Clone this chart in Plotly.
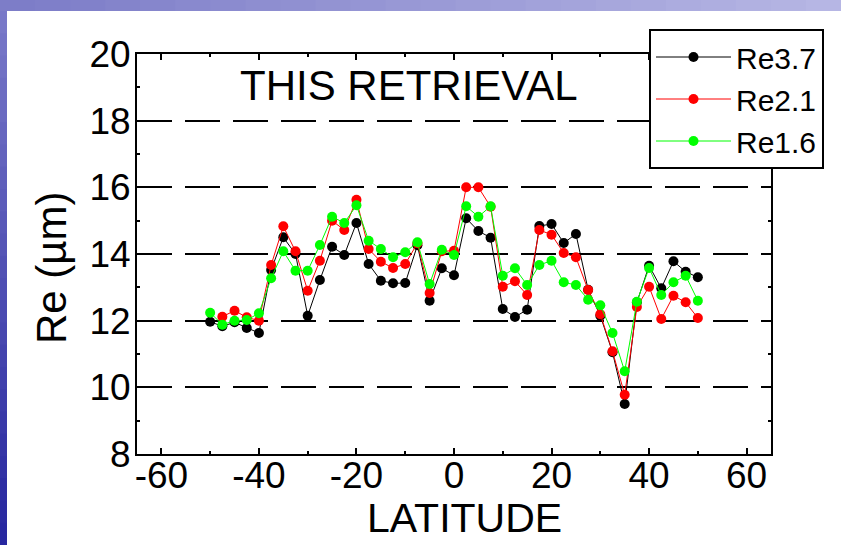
import plotly.graph_objects as go

# Latitude of each retrieval bin (degrees)
lat = [-50, -47.5, -45, -42.5, -40, -37.5, -35, -32.5, -30, -27.5,
       -25, -22.5, -20, -17.5, -15, -12.5, -10, -7.5, -5, -2.5,
       0, 2.5, 5, 7.5, 10, 12.5, 15, 17.5, 20, 22.5,
       25, 27.5, 30, 32.5, 35, 37.5, 40, 42.5, 45, 47.5, 50]

# Effective radius (µm) from the 3.7, 2.1 and 1.6 µm channels
re37 = [11.97, 11.83, 11.95, 11.78, 11.63, 13.52, 14.50, 14.00, 12.15, 13.22,
        14.22, 13.97, 14.93, 13.70, 13.20, 13.12, 13.13, 14.26, 12.60, 13.57,
        13.36, 15.07, 14.69, 14.49, 12.35, 12.11, 12.33, 14.84, 14.90, 14.33,
        14.60, 12.93, 12.15, 11.05, 9.50, 12.55, 13.65, 12.97, 13.78, 13.47, 13.30]
re21 = [None, 12.12, 12.30, 12.10, 12.00, 13.67, 14.83, 14.08, 12.90, 13.80,
        15.00, 14.72, 15.63, 14.15, 13.77, 13.58, 13.70, 14.32, 12.83, 14.08,
        14.10, 16.00, 16.00, 15.42, 13.02, 13.18, 12.77, 14.72, 14.58, 14.03,
        13.90, 12.92, 12.19, 11.08, 9.78, 12.41, 13.02, 12.05, 12.75, 12.55, 12.08]
re16 = [12.24, 11.88, 12.00, 12.02, 12.22, 13.27, 14.08, 13.50, 13.50, 14.27,
        15.12, 14.93, 15.46, 14.40, 14.15, 13.90, 14.05, 14.35, 13.10, 14.13,
        13.97, 15.43, 15.12, 15.43, 13.35, 13.57, 13.07, 13.67, 13.80, 13.15,
        13.07, 12.63, 12.46, 11.63, 10.48, 12.57, 13.58, 12.77, 13.15, 13.35, 12.60]

series = [("Re3.7", re37, "#000000"),
          ("Re2.1", re21, "#ff0000"),
          ("Re1.6", re16, "#00ff00")]

x_ticks = [-60, -40, -20, 0, 20, 40, 60]
x_labels = ["-60", "-40", "-20", "0", "20", "40", "60"]
y_ticks = [8, 10, 12, 14, 16, 18, 20]

FONT = "Liberation Sans, Arial, sans-serif"
W, H = 841, 545
ML, MR, MT, MB = 137, 70, 54, 91
PW, PH = W - ML - MR, H - MT - MB

fig = go.Figure()
for name, vals, col in series:
    fig.add_trace(go.Scatter(
        x=lat, y=vals, name=name, mode="lines+markers",
        line=dict(color=col, width=1),
        marker=dict(color=col, size=10, symbol="circle"),
    ))


def px_x(p):
    return (p - ML) / PW


def px_y(p):
    return (H - MB - p) / PH


# slide backdrop: blue page, white card, shaded band along the top edge
shapes = [dict(type="rect", xref="paper", yref="paper", layer="below",
               x0=px_x(7), x1=px_x(W + 2), y0=px_y(H + 2), y1=px_y(11),
               fillcolor="white", line=dict(width=0))]
n = 24
top_c0, top_c1 = (125, 125, 200), (182, 182, 228)
for i in range(n):
    t = i / (n - 1)
    c = tuple(int(a + (b - a) * t) for a, b in zip(top_c0, top_c1))
    shapes.append(dict(type="rect", xref="paper", yref="paper", layer="below",
                       x0=px_x(W * i / n), x1=px_x(W * (i + 1) / n + 1),
                       y0=px_y(11), y1=px_y(-1),
                       fillcolor="rgb(%d,%d,%d)" % c, line=dict(width=0)))
left_c0, left_c1 = (120, 120, 200), (40, 40, 160)
for i in range(n):
    t = i / (n - 1)
    c = tuple(int(a + (b - a) * t) for a, b in zip(left_c0, left_c1))
    shapes.append(dict(type="rect", xref="paper", yref="paper", layer="below",
                       x0=px_x(-1), x1=px_x(7),
                       y0=px_y(11 + (H - 11) * (i + 1) / n + 1),
                       y1=px_y(11 + (H - 11) * i / n),
                       fillcolor="rgb(%d,%d,%d)" % c, line=dict(width=0)))

axis_common = dict(
    showline=True, linecolor="black", linewidth=2, mirror="ticks",
    ticks="inside", ticklen=6, tickwidth=2, tickcolor="black",
    tickfont=dict(family=FONT, size=37, color="black"),
    zeroline=False,
)

fig.update_layout(
    width=W, height=H,
    margin=dict(l=ML, r=MR, t=MT, b=MB, pad=0),
    paper_bgcolor="rgb(45,45,165)", plot_bgcolor="white",
    shapes=shapes,
    xaxis=dict(range=[-65, 65], tickvals=x_ticks, ticktext=x_labels,
               showgrid=False, ticklabelstandoff=-12,
               minor=dict(dtick=10, ticks="inside", ticklen=3, tickwidth=1.5,
                          tickcolor="black"),
               **axis_common),
    yaxis=dict(range=[8, 20], tickvals=y_ticks, showgrid=True,
               gridcolor="black", gridwidth=2, griddash="35px,13px",
               minor=dict(dtick=1, ticks="inside", ticklen=3, tickwidth=1.5,
                          tickcolor="black"),
               ticklabelstandoff=-3,
               **axis_common),
    legend=dict(x=px_x(649), y=px_y(29), xanchor="left", yanchor="top",
                bgcolor="white", bordercolor="black", borderwidth=2,
                font=dict(family=FONT, size=30, color="black"),
                itemwidth=75, tracegroupgap=0),
    showlegend=True,
    annotations=[
        dict(text="THIS RETRIEVAL", xref="paper", yref="paper",
             x=px_x(409), y=px_y(86), showarrow=False,
             xanchor="center", yanchor="middle",
             font=dict(family=FONT, size=42, color="black")),
        dict(text="LATITUDE", xref="paper", yref="paper",
             x=px_x(464), y=px_y(518), showarrow=False,
             xanchor="center", yanchor="middle",
             font=dict(family=FONT, size=41, color="black")),
        dict(text="Re (µm)", xref="paper", yref="paper", textangle=-90,
             x=px_x(51), y=px_y(268), showarrow=False,
             xanchor="center", yanchor="middle",
             font=dict(family=FONT, size=42, color="black")),
    ],
)

fig.write_html("out.html")
